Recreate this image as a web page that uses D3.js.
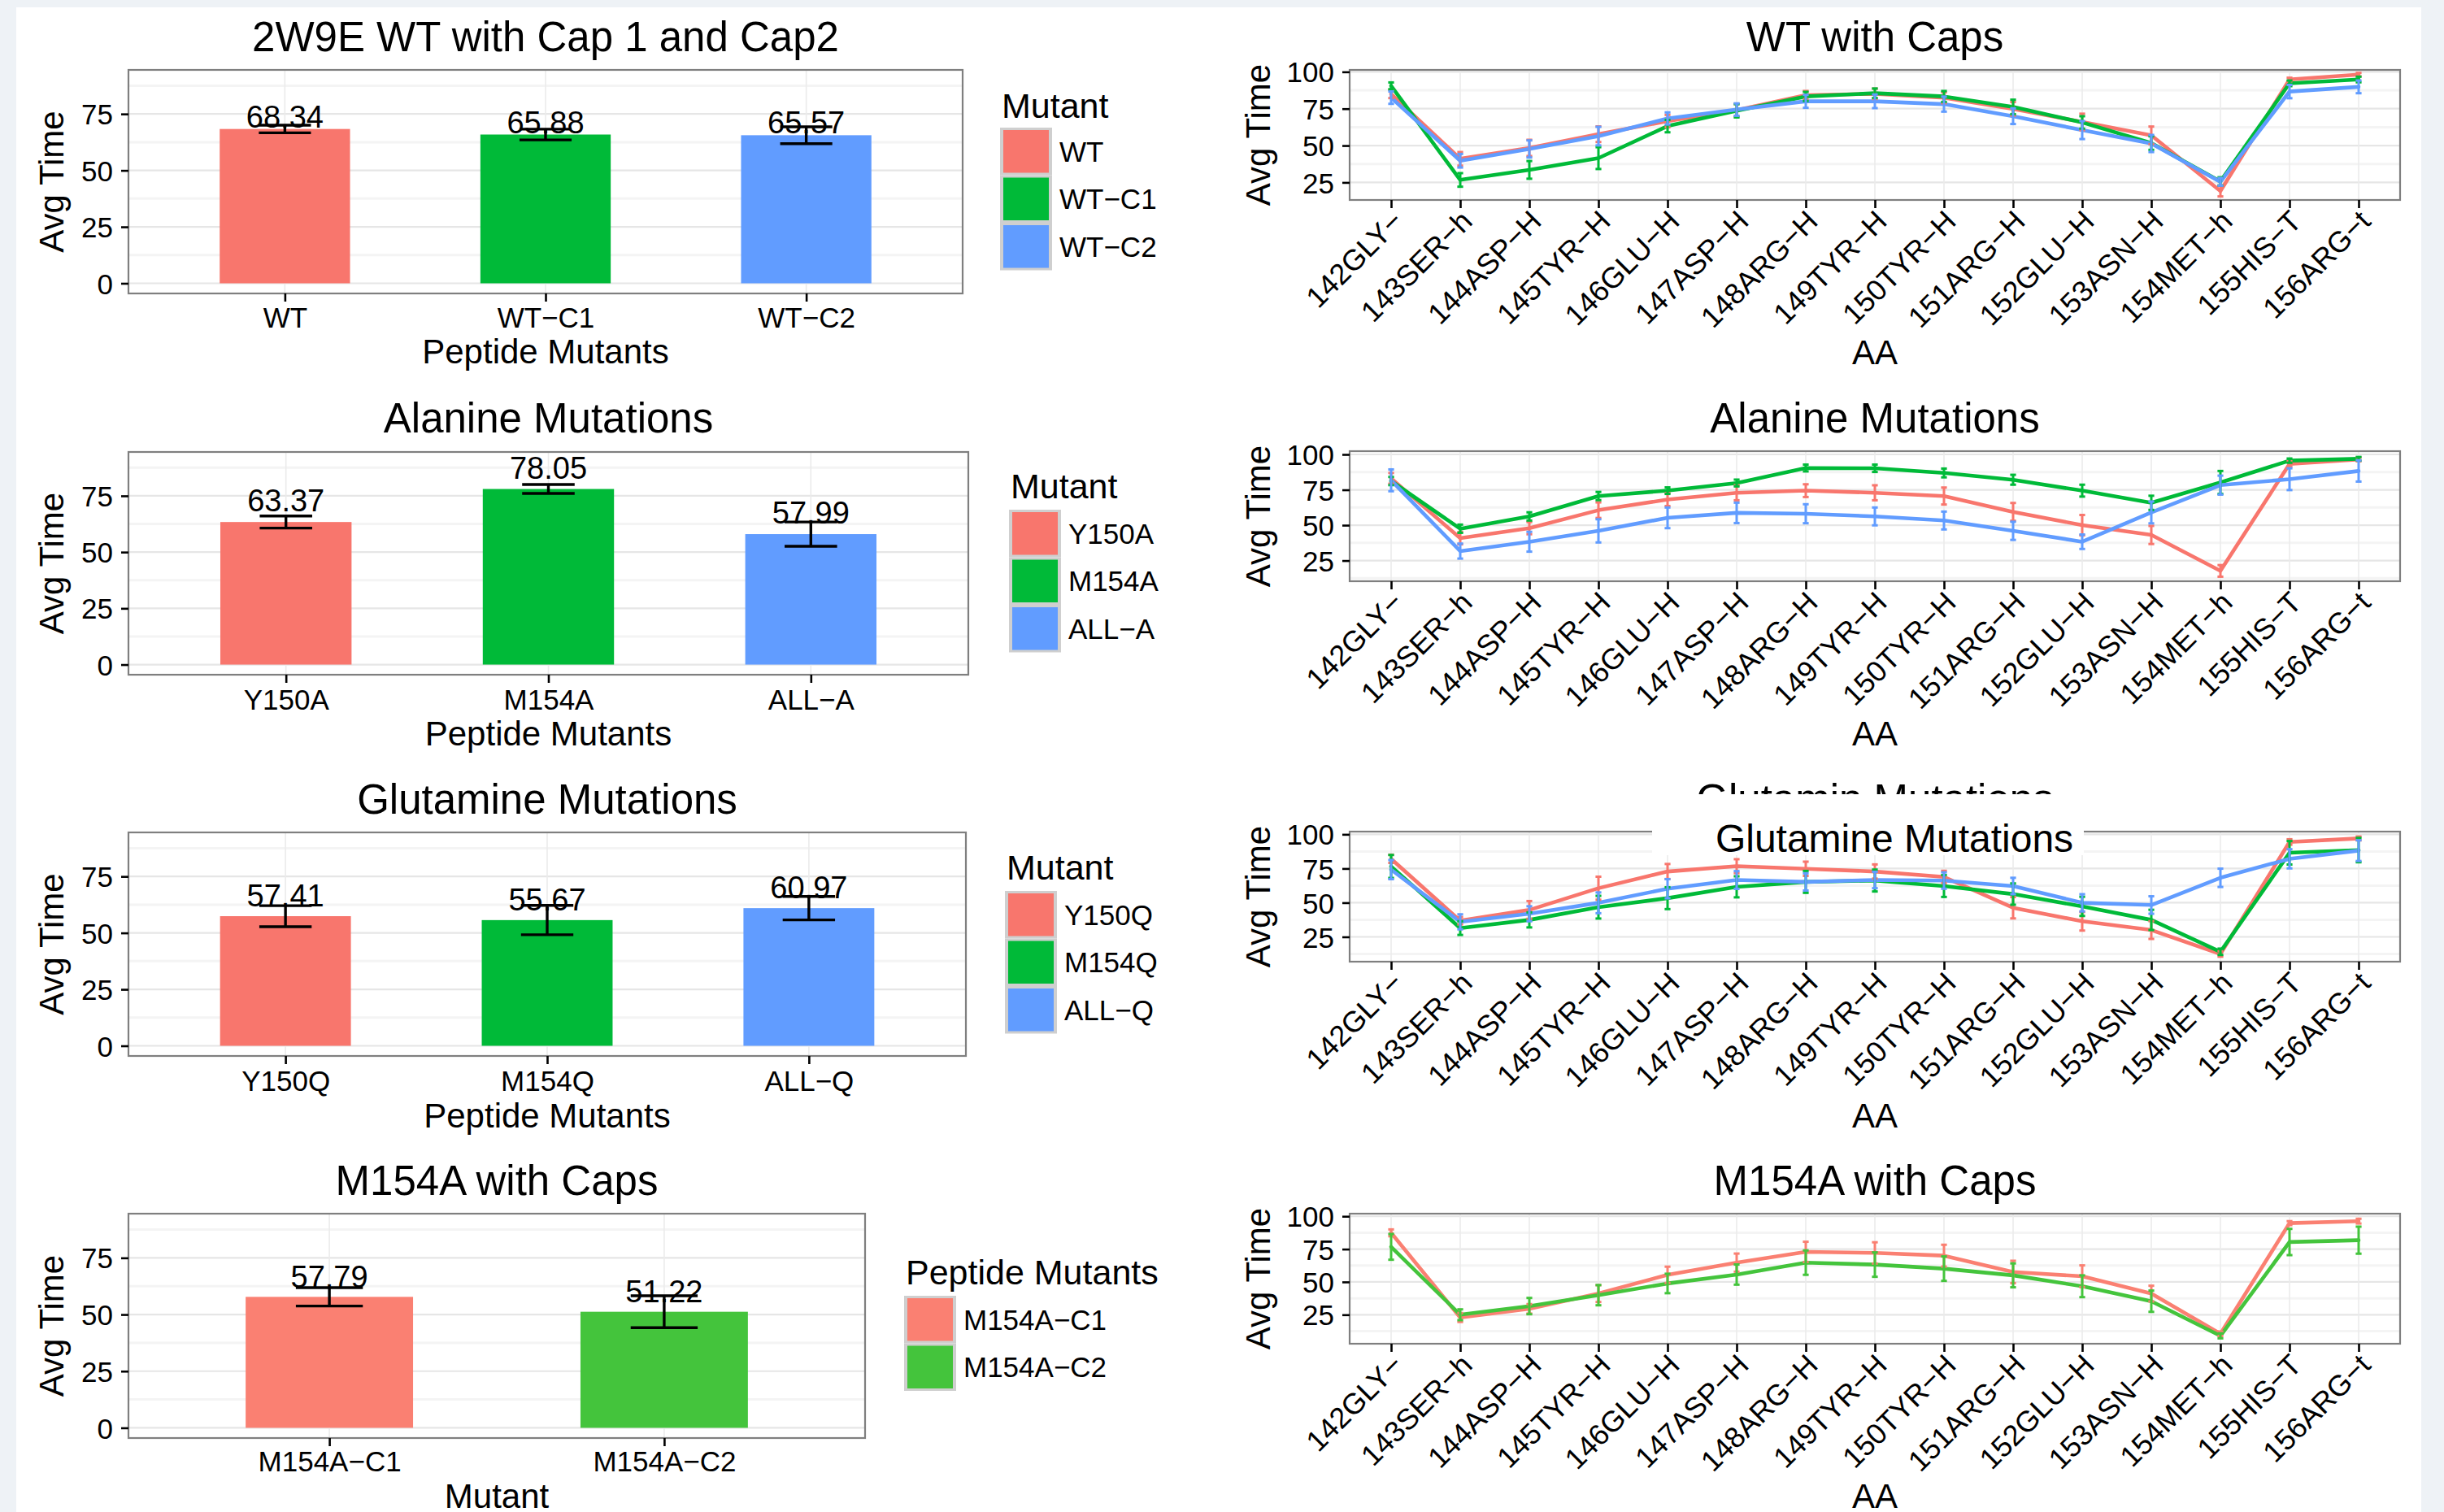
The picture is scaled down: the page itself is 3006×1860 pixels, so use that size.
<!DOCTYPE html>
<html>
<head>
<meta charset="utf-8">
<script src="https://cdn.jsdelivr.net/npm/d3@7"></script>
<style>
  html, body { margin: 0; padding: 0; background: #eef2f6; }
  svg { display: block; }
</style>
</head>
<body>
<svg id="fig" width="3006" height="1860"></svg>
<script>
// ---------------- data ----------------
// bar charts: mean time per mutant and error half-width
const wtMutants  = ["WT", "WT\u2212C1", "WT\u2212C2"];
const wtMeans    = [68.34, 65.88, 65.57];
const wtErr      = [1.7, 2.4, 3.75];

const alaMutants = ["Y150A", "M154A", "ALL\u2212A"];
const alaMeans   = [63.37, 78.05, 57.99];
const alaErr     = [2.7, 2.0, 5.4];

const glnMutants = ["Y150Q", "M154Q", "ALL\u2212Q"];
const glnMeans   = [57.41, 55.67, 60.97];
const glnErr     = [4.65, 6.5, 5.2];

const capMutants = ["M154A\u2212C1", "M154A\u2212C2"];
const capMeans   = [57.79, 51.22];
const capErr     = [4.05, 7.05];

const barLimits  = [0, 90];
const barTicks   = [0, 25, 50, 75];
const barMinor   = [12.5, 37.5, 62.5, 87.5];

// per-residue profiles
const residues = ["142GLY\u2212", "143SER\u2212h", "144ASP\u2212H", "145TYR\u2212H", "146GLU\u2212H",
  "147ASP\u2212H", "148ARG\u2212H", "149TYR\u2212H", "150TYR\u2212H", "151ARG\u2212H", "152GLU\u2212H",
  "153ASN\u2212H", "154MET\u2212h", "155HIS\u2212T", "156ARG\u2212t"];
const lineTicks = [25, 50, 75, 100];
const lineMinor = [12.5, 37.5, 62.5, 87.5];

const wtAvg    = [85.0, 41.0, 48.4, 57.7, 66.6, 74.0, 84.2, 85.1, 82.4, 74.9, 66.0, 56.9, 19.2, 94.8, 98.1];
const wtSd     = [2.8, 4.6, 5.5, 5.3, 4.2, 4.2, 2.8, 3.5, 3.7, 4.6, 5.6, 6.0, 3.7, 1.2, 1.2];
const wtC1Avg  = [90.5, 26.7, 33.5, 41.5, 63.2, 73.6, 83.3, 85.5, 83.3, 76.2, 65.7, 51.7, 25.7, 92.2, 94.8];
const wtC1Sd   = [2.3, 4.6, 6.0, 7.4, 4.2, 4.5, 3.1, 3.2, 3.7, 4.9, 4.2, 4.6, 2.8, 1.9, 1.9];
const wtC2Avg  = [82.5, 39.7, 47.7, 56.4, 68.4, 74.4, 80.0, 80.0, 78.1, 69.9, 60.5, 51.4, 25.4, 86.6, 89.8];
const wtC2Sd   = [4.2, 4.6, 5.8, 6.3, 4.1, 4.2, 4.4, 4.6, 5.1, 5.3, 6.1, 5.8, 2.6, 4.5, 4.3];

const y150aAvg = [83.1, 40.8, 47.9, 60.6, 68.1, 72.9, 74.4, 72.9, 70.6, 59.4, 50.0, 43.1, 17.7, 93.3, 96.5];
const y150aSd  = [3.8, 4.3, 4.3, 5.5, 4.6, 5.3, 4.5, 5.3, 6.0, 6.3, 7.2, 6.4, 4.1, 1.9, 1.3];
const m154aAvg = [81.2, 47.5, 56.2, 70.6, 74.4, 79.8, 90.4, 90.2, 86.9, 82.1, 74.4, 65.8, 80.2, 95.6, 96.9];
const m154aSd  = [2.9, 2.9, 2.9, 2.9, 2.3, 2.4, 2.4, 2.6, 3.1, 3.5, 4.2, 5.0, 8.1, 1.5, 1.3];
const allAAvg  = [81.7, 31.7, 38.3, 46.0, 55.2, 58.7, 58.1, 56.2, 53.3, 46.0, 38.3, 59.0, 78.3, 82.5, 88.3];
const allASd   = [7.7, 5.3, 7.0, 8.2, 7.3, 7.2, 6.7, 6.3, 6.3, 6.4, 5.1, 7.7, 6.7, 7.7, 7.5];

const y150qAvg = [82.1, 36.8, 44.7, 60.6, 72.8, 76.7, 74.8, 72.8, 68.8, 46.3, 36.4, 30.0, 12.5, 94.4, 97.0];
const y150qSd  = [3.0, 2.7, 6.5, 8.4, 5.5, 5.1, 5.2, 5.2, 4.5, 7.8, 6.8, 6.5, 2.0, 2.0, 1.4];
const m154qAvg = [76.5, 31.4, 37.4, 46.7, 53.3, 61.6, 65.2, 66.2, 62.2, 56.3, 47.3, 37.4, 14.1, 86.5, 88.5];
const m154qSd  = [8.4, 5.0, 5.5, 8.3, 8.0, 7.7, 8.0, 8.0, 8.0, 7.8, 7.0, 7.4, 2.3, 8.6, 8.9];
const allQAvg  = [74.2, 36.0, 41.9, 49.9, 60.2, 66.6, 65.2, 66.6, 66.2, 62.2, 49.9, 48.3, 68.2, 82.1, 88.1];
const allQSd   = [7.0, 5.5, 5.5, 7.6, 7.0, 6.5, 6.3, 6.0, 6.0, 6.0, 6.3, 6.4, 6.7, 7.0, 7.6];

const m154aC1Avg = [87.4, 22.9, 29.5, 41.1, 55.4, 64.7, 72.9, 72.1, 70.0, 57.6, 54.3, 41.1, 10.5, 94.8, 96.3];
const m154aC1Sd  = [2.6, 3.4, 3.6, 6.4, 6.2, 6.9, 7.7, 8.1, 8.3, 8.5, 8.3, 6.0, 1.7, 1.5, 1.8];
const m154aC2Avg = [76.7, 25.0, 31.6, 39.9, 48.8, 55.6, 64.7, 63.2, 60.1, 55.0, 46.7, 35.3, 8.9, 80.4, 81.8];
const m154aC2Sd  = [9.8, 4.1, 6.2, 7.7, 7.4, 7.7, 9.3, 9.3, 9.3, 9.1, 8.3, 8.1, 1.9, 10.0, 10.3];

// ---------------- styling ----------------
const FONT = "'Liberation Sans', Arial, Helvetica, sans-serif";
const hue3 = ["#F8766D", "#00BA38", "#619CFF"];
const capColors = ["#FA8072", "#44C43C"];
const SZ = { title: 51, axisTitle: 42, tick: 35, resTick: 36, legTitle: 43, legLabel: 35, value: 38 };

const svg = d3.select("#fig").attr("font-family", FONT);
svg.append("rect").attr("width", 3006).attr("height", 1860).attr("fill", "#eef2f6");
svg.append("rect").attr("x", 20).attr("y", 9).attr("width", 2958).attr("height", 1851).attr("fill", "#ffffff");

function expand(lim, f) { const r = lim[1] - lim[0]; return [lim[0] - f * r, lim[1] + f * r]; }

function drawPanelGrid(g, p, x, y, cats, majors, minors) {
  g.append("rect").attr("x", p.x0).attr("y", p.y0).attr("width", p.x1 - p.x0).attr("height", p.y1 - p.y0).attr("fill", "#fff");
  const dom = y.domain();
  g.selectAll(null).data(minors.filter(v => v > dom[0] && v < dom[1])).join("line")
    .attr("x1", p.x0).attr("x2", p.x1).attr("y1", d => y(d)).attr("y2", d => y(d))
    .attr("stroke", "#f4f4f4").attr("stroke-width", 3);
  g.selectAll(null).data(majors).join("line")
    .attr("x1", p.x0).attr("x2", p.x1).attr("y1", d => y(d)).attr("y2", d => y(d))
    .attr("stroke", "#e6e6e6").attr("stroke-width", 2.2);
  g.selectAll(null).data(cats).join("line")
    .attr("x1", d => x(d)).attr("x2", d => x(d)).attr("y1", p.y0).attr("y2", p.y1)
    .attr("stroke", "#ebebeb").attr("stroke-width", 1.6);
}

function drawBorder(g, p) {
  g.append("rect").attr("x", p.x0).attr("y", p.y0).attr("width", p.x1 - p.x0).attr("height", p.y1 - p.y0)
    .attr("fill", "none").attr("stroke", "#7f7f7f").attr("stroke-width", 2.2);
}

function yAxis(g, p, y, ticks, labelX) {
  const ax = g.append("g").attr("transform", `translate(${p.x0},0)`)
    .call(d3.axisLeft(y).tickValues(ticks).tickSize(9).tickPadding(10).tickFormat(d3.format("d")));
  ax.attr("font-family", FONT).attr("font-size", SZ.tick);
  ax.select(".domain").remove();
  ax.selectAll(".tick line").attr("stroke", "#000").attr("stroke-width", 2.6);
  ax.selectAll(".tick text").attr("fill", "#000").attr("dy", "0.36em");
  g.append("text").attr("transform", `translate(${labelX},${(p.y0 + p.y1) / 2}) rotate(-90)`)
    .attr("text-anchor", "middle").attr("font-size", SZ.axisTitle).text("Avg Time");
}

function title(g, x, yBase, txt, size) {
  return g.append("text").attr("x", x).attr("y", yBase).attr("text-anchor", "middle")
    .attr("font-size", size || SZ.title).text(txt);
}

// ---------------- bar charts ----------------
function barChart(cfg) {
  const { p, cats, means, errs, colors, heading, xTitle, legendTitle } = cfg;
  const g = svg.append("g");
  const x = d3.scalePoint().domain(cats).range([p.x0, p.x1]).padding(0.6);
  const y = d3.scaleLinear().domain(expand(barLimits, 0.05)).range([p.y1, p.y0]);
  const bw = x.step() * 0.5, cw = x.step() * 0.1;

  drawPanelGrid(g, p, x, y, cats, barTicks, barMinor);
  const rows = cats.map((c, i) => ({ c, m: means[i], e: errs[i], col: colors[i] }));

  g.selectAll(null).data(rows).join("rect")
    .attr("x", d => x(d.c) - bw / 2).attr("width", bw)
    .attr("y", d => y(d.m)).attr("height", d => y(0) - y(d.m))
    .attr("fill", d => d.col);

  const eb = g.selectAll(null).data(rows).join("g").attr("stroke", "#000").attr("stroke-width", 3.4);
  eb.append("line").attr("x1", d => x(d.c)).attr("x2", d => x(d.c)).attr("y1", d => y(d.m - d.e)).attr("y2", d => y(d.m + d.e));
  eb.append("line").attr("x1", d => x(d.c) - cw).attr("x2", d => x(d.c) + cw).attr("y1", d => y(d.m - d.e)).attr("y2", d => y(d.m - d.e));
  eb.append("line").attr("x1", d => x(d.c) - cw).attr("x2", d => x(d.c) + cw).attr("y1", d => y(d.m + d.e)).attr("y2", d => y(d.m + d.e));

  g.selectAll(null).data(rows).join("text")
    .attr("x", d => x(d.c)).attr("y", d => y(d.m) - p.labelLift)
    .attr("text-anchor", "middle").attr("font-size", SZ.value)
    .text(d => d.m.toFixed(2));

  drawBorder(g, p);
  yAxis(g, p, y, barTicks, 78);

  const ax = g.append("g").attr("transform", `translate(0,${p.y1})`)
    .call(d3.axisBottom(x).tickSize(10));
  ax.attr("font-family", FONT).attr("font-size", SZ.tick);
  ax.select(".domain").remove();
  ax.selectAll(".tick line").attr("stroke", "#000").attr("stroke-width", 2.6);
  ax.selectAll(".tick text").attr("fill", "#000").attr("y", p.tickY - p.y1).attr("dy", 0);

  const cx = (p.x0 + p.x1) / 2;
  title(g, cx, p.titleY, heading);
  g.append("text").attr("x", cx).attr("y", p.axisTitleY).attr("text-anchor", "middle")
    .attr("font-size", SZ.axisTitle).text(xTitle);

  // legend
  const kw = 64, kh = 58.5;
  g.append("text").attr("x", p.legX + 2).attr("y", p.legTitleY).attr("font-size", SZ.legTitle).text(legendTitle);
  const keys = g.selectAll(null).data(rows).join("g")
    .attr("transform", (d, i) => `translate(${p.legX},${p.legKeyY + i * kh})`);
  keys.append("rect").attr("width", kw).attr("height", kh).attr("fill", "#cfcfcf");
  keys.append("rect").attr("x", 4).attr("y", 3).attr("width", kw - 8).attr("height", kh - 6).attr("fill", d => d.col);
  keys.append("text").attr("x", kw + 9).attr("y", kh / 2).attr("dy", "0.36em")
    .attr("font-size", SZ.legLabel).text(d => d.c);
}

barChart({ p: { x0: 158, x1: 1184, y0: 86, y1: 361, titleY: 63, tickY: 403, axisTitleY: 447, legX: 1230, legTitleY: 145, legKeyY: 157, labelLift: 2 },
  cats: wtMutants, means: wtMeans, errs: wtErr, colors: hue3,
  heading: "2W9E WT with Cap 1 and Cap2", xTitle: "Peptide Mutants", legendTitle: "Mutant" });
barChart({ p: { x0: 158, x1: 1191, y0: 556, y1: 830, titleY: 532, tickY: 873, axisTitleY: 917, legX: 1241, legTitleY: 613, legKeyY: 627, labelLift: 13 },
  cats: alaMutants, means: alaMeans, errs: alaErr, colors: hue3,
  heading: "Alanine Mutations", xTitle: "Peptide Mutants", legendTitle: "Mutant" });
barChart({ p: { x0: 158, x1: 1188, y0: 1024, y1: 1299, titleY: 1001, tickY: 1342, axisTitleY: 1387, legX: 1236, legTitleY: 1082, legKeyY: 1096, labelLift: 12 },
  cats: glnMutants, means: glnMeans, errs: glnErr, colors: hue3,
  heading: "Glutamine Mutations", xTitle: "Peptide Mutants", legendTitle: "Mutant" });
barChart({ p: { x0: 158, x1: 1064, y0: 1493, y1: 1769, titleY: 1470, tickY: 1810, axisTitleY: 1855, legX: 1112, legTitleY: 1580, legKeyY: 1594, labelLift: 11.5 },
  cats: capMutants, means: capMeans, errs: capErr, colors: capColors,
  heading: "M154A with Caps", xTitle: "Mutant", legendTitle: "Peptide Mutants" });

// ---------------- residue profiles ----------------
function lineChart(cfg) {
  const { p, series } = cfg;
  const g = svg.append("g");
  const x = d3.scalePoint().domain(residues).range([p.x0, p.x1]).padding(0.6);
  const y = d3.scaleLinear().domain(p.dom).range([p.y1, p.y0]);

  drawPanelGrid(g, p, x, y, residues, lineTicks, lineMinor);

  const line = d3.line().x(d => x(d.r)).y(d => y(d.v));
  const data = series.map(s => ({ col: s.col, pts: residues.map((r, i) => ({ r, v: s.avg[i], e: s.sd[i] })) }));

  g.selectAll(null).data(data).join("path")
    .attr("d", d => line(d.pts)).attr("fill", "none").attr("stroke", d => d.col)
    .attr("stroke-width", 4.6).attr("stroke-linejoin", "round").attr("stroke-linecap", "round");

  data.forEach(s => {
    const eb = g.append("g").attr("stroke", s.col).attr("stroke-width", 3);
    const cw = 3.6;
    eb.selectAll(null).data(s.pts).join("line")
      .attr("x1", d => x(d.r)).attr("x2", d => x(d.r)).attr("y1", d => y(d.v - d.e)).attr("y2", d => y(d.v + d.e));
    eb.selectAll(null).data(s.pts).join("line")
      .attr("x1", d => x(d.r) - cw).attr("x2", d => x(d.r) + cw).attr("y1", d => y(d.v - d.e)).attr("y2", d => y(d.v - d.e));
    eb.selectAll(null).data(s.pts).join("line")
      .attr("x1", d => x(d.r) - cw).attr("x2", d => x(d.r) + cw).attr("y1", d => y(d.v + d.e)).attr("y2", d => y(d.v + d.e));
  });

  drawBorder(g, p);
  yAxis(g, p, y, lineTicks, 1562);

  const ax = g.append("g").attr("transform", `translate(0,${p.y1})`)
    .call(d3.axisBottom(x).tickSize(10));
  ax.attr("font-family", FONT).attr("font-size", SZ.resTick);
  ax.select(".domain").remove();
  ax.selectAll(".tick line").attr("stroke", "#000").attr("stroke-width", 2.6);
  ax.selectAll(".tick text").attr("fill", "#000").attr("y", 0).attr("dy", "0.72em")
    .attr("text-anchor", "end").attr("transform", "translate(-2,10) rotate(-45)");

  const cx = (p.x0 + p.x1) / 2;
  g.append("text").attr("x", cx).attr("y", p.axisTitleY).attr("text-anchor", "middle")
    .attr("font-size", SZ.axisTitle).text("AA");
  return { g, cx };
}

const L1 = lineChart({ p: { x0: 1660, x1: 2952, y0: 86, y1: 246, dom: [13.1, 101.3], axisTitleY: 448 },
  series: [{ avg: wtAvg, sd: wtSd, col: hue3[0] }, { avg: wtC1Avg, sd: wtC1Sd, col: hue3[1] }, { avg: wtC2Avg, sd: wtC2Sd, col: hue3[2] }] });
title(L1.g, L1.cx, 63, "WT with Caps");

const L2 = lineChart({ p: { x0: 1660, x1: 2952, y0: 555, y1: 715, dom: [10.4, 102.3], axisTitleY: 917 },
  series: [{ avg: y150aAvg, sd: y150aSd, col: hue3[0] }, { avg: m154aAvg, sd: m154aSd, col: hue3[1] }, { avg: allAAvg, sd: allASd, col: hue3[2] }] });
title(L2.g, L2.cx, 532, "Alanine Mutations");

const L3 = lineChart({ p: { x0: 1660, x1: 2952, y0: 1023, y1: 1183, dom: [6.85, 102], axisTitleY: 1387 },
  series: [{ avg: y150qAvg, sd: y150qSd, col: hue3[0] }, { avg: m154qAvg, sd: m154qSd, col: hue3[1] }, { avg: allQAvg, sd: allQSd, col: hue3[2] }] });
// original heading, mostly hidden under a pasted correction
svg.append("clipPath").attr("id", "oldHead").append("rect").attr("x", 1660).attr("y", 940).attr("width", 1300).attr("height", 37);
title(L3.g, L3.cx, 1001, "Glutamin Mutations").attr("clip-path", "url(#oldHead)");
L3.g.append("rect").attr("x", 2032).attr("y", 977).attr("width", 531).attr("height", 75).attr("fill", "#fff");
title(L3.g, 2330, 1048, "Glutamine Mutations", 48);

const L4 = lineChart({ p: { x0: 1660, x1: 2952, y0: 1493, y1: 1653, dom: [2.9, 102], axisTitleY: 1855 },
  series: [{ avg: m154aC1Avg, sd: m154aC1Sd, col: capColors[0] }, { avg: m154aC2Avg, sd: m154aC2Sd, col: capColors[1] }] });
title(L4.g, L4.cx, 1470, "M154A with Caps");
</script>
</body>
</html>
